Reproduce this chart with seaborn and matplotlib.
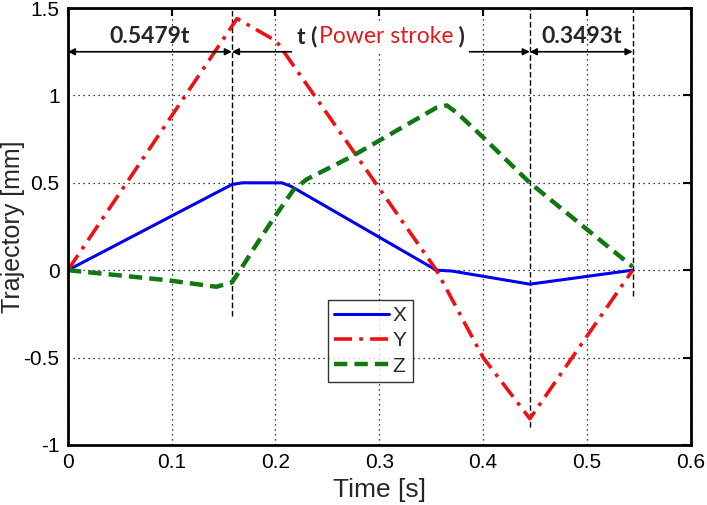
import matplotlib
matplotlib.use("Agg")
import matplotlib.pyplot as plt
from matplotlib.patches import Rectangle
import seaborn as sns

# data
x_t = [0, 0.158, 0.168, 0.206, 0.215, 0.355, 0.37, 0.445, 0.544]
x_v = [0, 0.49, 0.5, 0.5, 0.48, 0.0, -0.005, -0.08, 0.0]

y_t = [0, 0.163, 0.201, 0.355, 0.4, 0.445, 0.544]
y_v = [0, 1.44, 1.31, 0.0, -0.5, -0.85, 0.0]

z_t = [0, 0.095, 0.143, 0.158, 0.166, 0.178, 0.197, 0.217, 0.23, 0.272, 0.355, 0.365, 0.375, 0.4, 0.445, 0.544]
z_v = [0, -0.057, -0.095, -0.07, 0.0, 0.114, 0.286, 0.457, 0.52, 0.646, 0.93, 0.943, 0.9, 0.76, 0.5, 0.02]

# phase boundaries and how far the marker lines drop
phase_t = [0, 0.158, 0.445, 0.544]
phase_low = [None, -0.26, -0.9, -0.15]
phase_labels = ["0.5479t", None, "0.3493t"]

sns.set_style("white")
plt.rcParams["font.family"] = ["Liberation Sans", "DejaVu Sans"]

fig = plt.figure(figsize=(7.07, 5.05), dpi=100)
ax = fig.add_axes([0.096, 0.119, 0.881, 0.865])

sns.lineplot(x=x_t, y=x_v, ax=ax, color="#0000ee", lw=2.2, label="X", sort=False)
sns.lineplot(x=y_t, y=y_v, ax=ax, color="#ee1111", lw=2.6, label="Y", sort=False)
sns.lineplot(x=z_t, y=z_v, ax=ax, color="#117711", lw=3.2, label="Z", sort=False)
ax.lines[1].set_dashes([5, 2, 1, 2])
ax.lines[2].set_dashes([3, 1.6])

ax.set_xlim(0, 0.6)
ax.set_ylim(-1, 1.5)
ax.set_xticks([0, 0.1, 0.2, 0.3, 0.4, 0.5, 0.6])
ax.set_xticklabels(["0", "0.1", "0.2", "0.3", "0.4", "0.5", "0.6"])
ax.set_yticks([-1, -0.5, 0, 0.5, 1, 1.5])
ax.set_yticklabels(["-1", "-0.5", "0", "0.5", "1", "1.5"])
ax.grid(True, color="black", linestyle=(0, (1, 3)), lw=0.9)
ax.tick_params(direction="in", length=6, width=1.5, top=True, right=True,
               labelsize=15, pad=6, colors="black")
for s in ax.spines.values():
    s.set_color("black")
    s.set_linewidth(2)

ax.set_xlabel("Time [s]", fontsize=19, labelpad=4)
ax.set_ylabel("Trajectory [mm]", fontsize=18)
ax.yaxis.set_label_coords(-0.069, 0.5)

# phase markers
for t, low in zip(phase_t[1:], phase_low[1:]):
    ax.plot([t, t], [low, 1.5], color="black", lw=1, dashes=[4, 2], zorder=1)

for a, b in zip(phase_t[:-1], phase_t[1:]):
    ax.annotate("", xy=(b, 1.25), xytext=(a, 1.25),
                arrowprops=dict(arrowstyle="<|-|>", color="black", lw=1.2,
                                mutation_scale=10, shrinkA=0, shrinkB=0))

ax.text((phase_t[0] + phase_t[1]) / 2, 1.335, phase_labels[0], ha="center", va="center",
        fontsize=16.5, fontweight="bold", family="Lato")
ax.text((phase_t[2] + phase_t[3]) / 2, 1.335, phase_labels[2], ha="center", va="center",
        fontsize=16.5, fontweight="bold", family="Lato")

# middle label with red part, on a white patch that hides the arrow shaft
ax.add_patch(Rectangle((0.216, 1.245), 0.17, 0.17, facecolor="white",
                       edgecolor="none", zorder=3.5))
t1 = ax.text(0.2205, 1.335, "t (", ha="left", va="center", fontsize=16.5,
             fontweight="bold", family="Lato", zorder=4)
t2 = ax.annotate("Power stroke", xycoords=t1, xy=(1, 0.5), va="center",
                 fontsize=16.5, color="#e41a1c", family="Lato",
                 xytext=(1, 0), textcoords="offset points", zorder=4)
ax.annotate(" )", xycoords=t2, xy=(1, 0.5), va="center",
            fontsize=16.5, fontweight="bold", family="Lato", zorder=4)

leg = ax.legend(loc="upper left", bbox_to_anchor=(0.418, 0.332), fontsize=15,
                frameon=True, fancybox=False, handlelength=2.6, handletextpad=0.2,
                borderpad=0.3, labelspacing=0.3, borderaxespad=0)
leg.get_frame().set_edgecolor("black")
leg.get_frame().set_linewidth(1)

fig.savefig("out.png", dpi=100)
